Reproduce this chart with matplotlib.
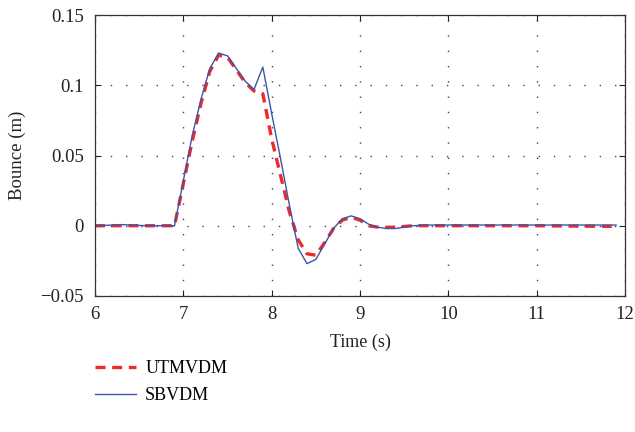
import matplotlib.pyplot as plt
from matplotlib.ticker import FixedLocator

plt.rcParams['font.family'] = ['Liberation Serif', 'DejaVu Serif']

# tempo (s), amostras a cada 0.1 s
t = [6.0, 6.1, 6.2, 6.3, 6.4, 6.5, 6.6, 6.7, 6.8, 6.9,
     7.0, 7.1, 7.2, 7.3, 7.4, 7.5, 7.6, 7.7, 7.8, 7.9,
     8.0, 8.1, 8.2, 8.3, 8.4, 8.5, 8.6, 8.7, 8.8, 8.9,
     9.0, 9.1, 9.2, 9.3, 9.4, 9.5, 9.6, 9.7, 9.8, 9.9,
     10.0, 10.5, 11.0, 11.5, 11.9]

utmvdm = [0.0, 0.0, 0.0, 0.0, 0.0, 0.0, 0.0, 0.0, 0.0, 0.0,
          0.030, 0.060, 0.087, 0.110, 0.1215, 0.120, 0.111, 0.102, 0.096, 0.094,
          0.062, 0.036, 0.010, -0.010, -0.020, -0.021, -0.012, -0.002, 0.004, 0.006,
          0.004, 0.000, -0.001, -0.0012, -0.001, -0.0005, 0.0, 0.0, 0.0, 0.0,
          0.0, 0.0, 0.0, -0.0003, -0.0005]

sbvdm = [0.0, 0.0002, 0.0005, 0.0008, 0.0005, 0.0002, 0.0, 0.0, 0.0, 0.0,
         0.032, 0.064, 0.090, 0.112, 0.123, 0.121, 0.112, 0.103, 0.097, 0.113,
         0.080, 0.048, 0.015, -0.016, -0.027, -0.024, -0.013, -0.002, 0.005, 0.007,
         0.005, 0.001, -0.001, -0.002, -0.002, -0.001, 0.0, 0.0003, 0.0005, 0.0005,
         0.0005, 0.0005, 0.0005, 0.0005, 0.0005]

yticks = [-0.05, 0, 0.05, 0.1, 0.15]
ytick_labels = ['\u22120.05', '0', '0.05', '0.1', '0.15']
xticks = [6, 7, 8, 9, 10, 11, 12]

fig = plt.figure(figsize=(6.35, 4.32), dpi=100)
ax = fig.add_axes([0.1496, 0.315, 0.8346, 0.65])

ax.plot(t, utmvdm, color='#ee2a2a', linestyle=(0, (3, 2)), linewidth=2.4, label='UTMVDM')
ax.plot(t, sbvdm, color='#3a56a8', linewidth=1.0, label='SBVDM')

ax.set_xlim(6, 12)
ax.set_ylim(-0.05, 0.15)
ax.xaxis.set_major_locator(FixedLocator(xticks))
ax.set_yticks(yticks)
ax.set_yticklabels(ytick_labels)

ax.tick_params(direction='in', top=True, right=True, length=4, labelsize=13.5,
               colors='#222222')
ax.tick_params(axis='x', pad=7)
ax.tick_params(axis='y', pad=8)
ax.grid(True, color='#444444', linestyle=(0, (1, 10)), linewidth=1.0)
for s in ax.spines.values():
    s.set_color('#333333')
    s.set_linewidth(0.9)

ax.set_xlabel('Time (s)', fontsize=13, color='#222222', labelpad=8)
ax.set_ylabel('Bounce (m)', fontsize=13.5, color='#222222', labelpad=10)

fig.legend(loc='upper left', bbox_to_anchor=(0.149, 0.166), frameon=False,
           fontsize=13, handlelength=2.3, handletextpad=0.5, labelspacing=0.55,
           borderaxespad=0, borderpad=0)

plt.savefig('out.png', dpi=100)
